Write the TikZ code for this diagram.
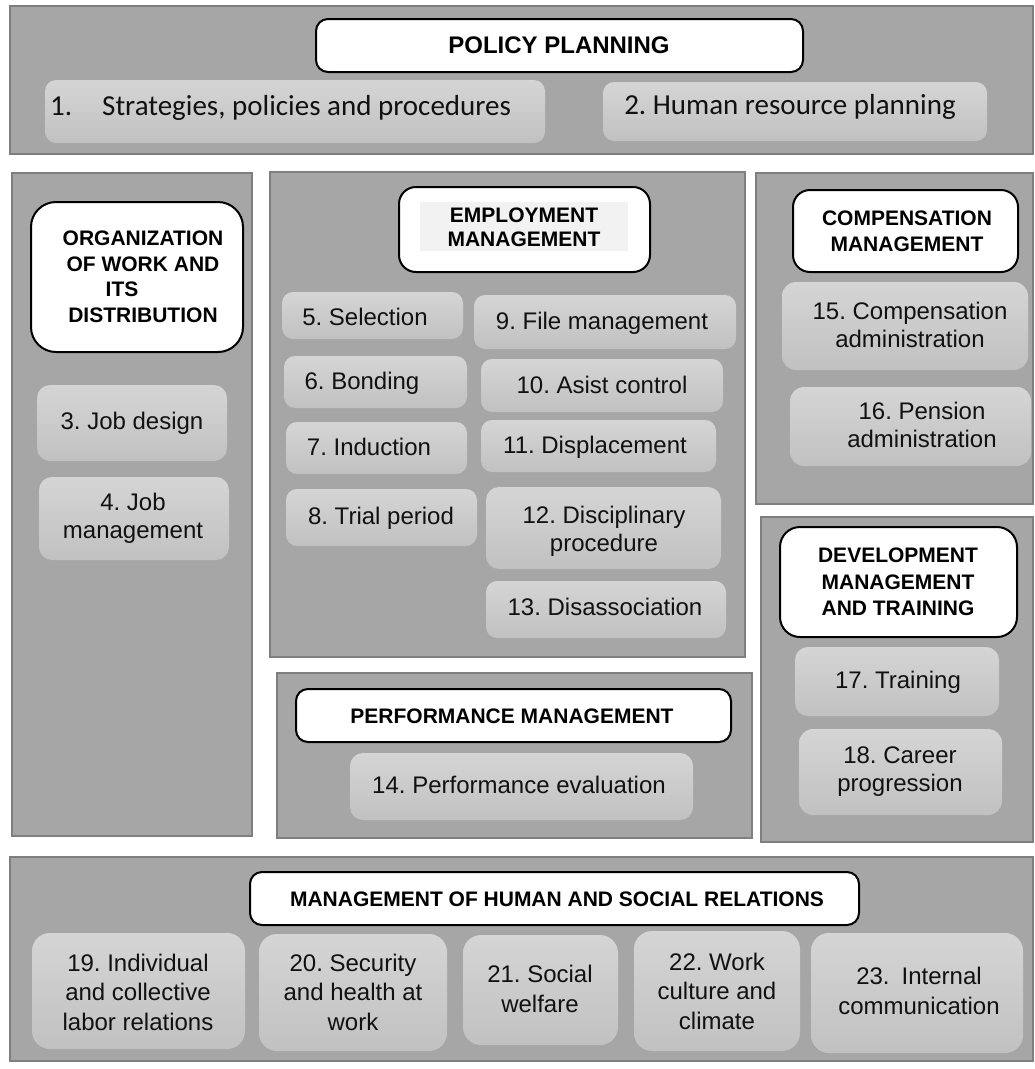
\documentclass[tikz,border=0pt]{standalone}
\usepackage{fontspec}
\setmainfont{Liberation Sans}
\newfontfamily\calibfont{Carlito}
\definecolor{pfill}{HTML}{A6A6A6}
\definecolor{pline}{HTML}{7F7F7F}
\definecolor{itop}{HTML}{D5D5D5}
\definecolor{ibot}{HTML}{C1C1C1}
\definecolor{hbg}{HTML}{F2F2F2}
\definecolor{txt}{HTML}{111111}
\frenchspacing
\begin{document}
\begin{tikzpicture}[x=1pt,y=-1pt,
  panel/.style={draw=pline, line width=2.5pt, fill=pfill},
  hdrbox/.style={draw=black, line width=2pt, fill=white, rounded corners=12pt},
  itembox/.style={top color=itop, bottom color=ibot, draw=none, rounded corners=11pt},
  itemtext/.style={font=\fontsize{24}{28}\selectfont, text=txt, align=center, inner sep=0pt},
  lowtext/.style={font=\fontsize{24}{29.5}\selectfont, text=txt, align=center, inner sep=0pt},
  hdrtext/.style={font=\fontsize{21}{25.5}\selectfont\bfseries, text=black, align=center, inner sep=0pt},
]
\useasboundingbox (0,0) rectangle (1035,1069);
\fill[white] (0,0) rectangle (1035,1069);

% panels
\draw[panel] (10,6) rectangle (1033,154);
\draw[panel] (12,173) rectangle (252,836);
\draw[panel] (270,172) rectangle (745,657);
\draw[panel] (277,673) rectangle (752,838);
\draw[panel] (756,173) rectangle (1033,504);
\draw[panel] (761,517) rectangle (1033,842);
\draw[panel] (10,857) rectangle (1033,1061);

% headers
\draw[hdrbox] (316,19) rectangle (803,72);
\node[hdrtext, font=\fontsize{24}{28}\selectfont\bfseries] (hpol) at (559,45) {POLICY PLANNING};

\draw[hdrbox, rounded corners=25pt] (31,202) rectangle (243,352);
\node[hdrtext] (horg) at (143,277) {ORGANIZATION\\OF WORK AND\\ITS\hbox to 42pt{\hfil}\\DISTRIBUTION};

\draw[hdrbox, rounded corners=17pt] (399,187) rectangle (650,272);
\fill[hbg] (420,202) rectangle (628,251);
\node[hdrtext, font=\fontsize{21}{24}\selectfont\bfseries] (hemp) at (524,227) {EMPLOYMENT\\MANAGEMENT};

\draw[hdrbox] (296,689) rectangle (731,742);
\node[hdrtext] (hperf) at (512,716) {PERFORMANCE MANAGEMENT};

\draw[hdrbox, rounded corners=17pt] (793,190) rectangle (1018,272);
\node[hdrtext, font=\fontsize{21}{26}\selectfont\bfseries] (hcomp) at (907,231) {COMPENSATION\\MANAGEMENT};

\draw[hdrbox, rounded corners=20pt] (780,527) rectangle (1017,637);
\node[hdrtext, font=\fontsize{21}{26.5}\selectfont\bfseries] (hdev) at (898,582) {DEVELOPMENT\\MANAGEMENT\\AND TRAINING};

\draw[hdrbox] (250,872) rectangle (859,925);
\node[hdrtext] (hrel) at (557,899) {MANAGEMENT OF HUMAN AND SOCIAL RELATIONS};

% policy items
\shade[itembox] (45,80) rectangle (545,143);
\node[itemtext, font=\calibfont\fontsize{29}{34}\selectfont, anchor=west] (i1) at (50,108) {1.\hspace{30pt}Strategies, policies and procedures};
\shade[itembox] (603,82) rectangle (987,141);
\node[itemtext, font=\calibfont\fontsize{29}{34}\selectfont] (i2) at (790,107) {2. Human resource planning};

% organization items
\shade[itembox, rounded corners=13pt] (37,385) rectangle (227,461);
\node[itemtext] (i3) at (132,423) {3. Job design};
\shade[itembox, rounded corners=13pt] (39,477) rectangle (229,560);
\node[itemtext] (i4) at (133,518) {4. Job\\management};

% employment items
\shade[itembox] (282,292) rectangle (463,339);
\node[itemtext] (i5) at (365,317) {5. Selection};
\shade[itembox] (284,356) rectangle (467,408);
\node[itemtext] (i6) at (362,383) {6. Bonding};
\shade[itembox] (286,422) rectangle (467,474);
\node[itemtext] (i7) at (369,447) {7. Induction};
\shade[itembox] (286,489) rectangle (477,546);
\node[itemtext] (i8) at (381,518) {8. Trial period};
\shade[itembox] (474,295) rectangle (736,349);
\node[itemtext] (i9) at (602,323) {9. File management};
\shade[itembox] (481,359) rectangle (723,412);
\node[itemtext] (i10) at (602,385) {10. Asist control};
\shade[itembox] (481,420) rectangle (716,472);
\node[itemtext] (i11) at (595,447) {11. Displacement};
\shade[itembox, rounded corners=13pt] (486,487) rectangle (721,569);
\node[itemtext] (i12) at (604,531) {12. Disciplinary\\procedure};
\shade[itembox] (486,581) rectangle (726,638);
\node[itemtext] (i13) at (605,607) {13. Disassociation};

% performance item
\shade[itembox, rounded corners=13pt] (350,753) rectangle (693,820);
\node[itemtext] (i14) at (519,785) {14. Performance evaluation};

% compensation items
\shade[itembox, rounded corners=14pt] (782,282) rectangle (1028,370);
\node[itemtext] (i15) at (910,325) {15. Compensation\\administration};
\shade[itembox, rounded corners=14pt] (790,387) rectangle (1031,466);
\node[itemtext] (i16) at (922,425) {16. Pension\\administration};

% development items
\shade[itembox, rounded corners=13pt] (795,647) rectangle (999,716);
\node[itemtext] (i17) at (898,682) {17. Training};
\shade[itembox, rounded corners=14pt] (799,729) rectangle (1002,815);
\node[itemtext] (i18) at (900,772) {18. Career\\progression};

% relations items
\shade[itembox, rounded corners=18pt] (32,933) rectangle (245,1049);
\node[lowtext] (i19) at (138,992) {19. Individual\\and collective\\labor relations};
\shade[itembox, rounded corners=18pt] (259,934) rectangle (447,1051);
\node[lowtext] (i20) at (353,992) {20. Security\\and health at\\work};
\shade[itembox, rounded corners=18pt] (463,935) rectangle (618,1045);
\node[lowtext] (i21) at (540,989) {21. Social\\welfare};
\shade[itembox, rounded corners=18pt] (634,931) rectangle (800,1051);
\node[lowtext] (i22) at (717,991) {22. Work\\culture and\\climate};
\shade[itembox, rounded corners=18pt] (811,933) rectangle (1023,1053);
\node[lowtext] (i23) at (919,991) {23.\hspace{12pt}Internal\\communication};
\end{tikzpicture}
\end{document}
